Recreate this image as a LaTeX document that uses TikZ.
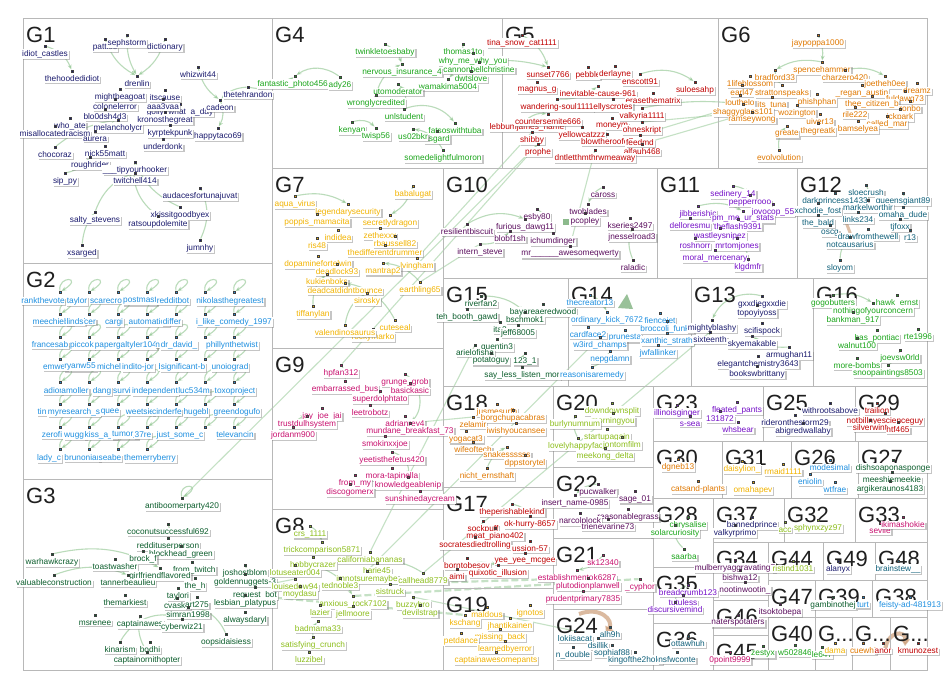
\documentclass[tikz,border=0pt]{standalone}
\usepackage{fontspec}
\setmainfont{Liberation Sans}
\usetikzlibrary{shadows,arrows.meta}
\pgfdeclarelayer{bg}
\pgfsetlayers{bg,main}
\definecolor{c1}{HTML}{1B1B6E}
\definecolor{c2}{HTML}{1E8FE0}
\definecolor{c3}{HTML}{0B5D2C}
\definecolor{c4}{HTML}{1AA51A}
\definecolor{c5}{HTML}{C00000}
\definecolor{c6}{HTML}{E07800}
\definecolor{c7}{HTML}{F2B300}
\definecolor{c8}{HTML}{8DBE1C}
\definecolor{c9}{HTML}{C8106E}
\definecolor{c10}{HTML}{5B0E5E}
\definecolor{c11}{HTML}{7510C8}
\definecolor{c12}{HTML}{10607A}
\definecolor{edc}{HTML}{8CC48C}
\definecolor{tanc}{RGB}{200,150,110}
\tikzset{
 box/.style={draw=black!28, line width=0.9pt},
 glabel/.style={font=\fontsize{22}{22}\selectfont, text=black!88, anchor=base west, inner sep=0pt},
 vtx/.style={rectangle, minimum size=2.6pt, inner sep=0pt, draw=black!75, line width=0.35pt},
 lab/.style={font=\fontsize{8.3}{9}\selectfont, fill=white, inner sep=0.7pt,
   drop shadow={shadow xshift=1.3pt, shadow yshift=-1.3pt, fill=black!50, opacity=0.45}},
 ed/.style={draw=edc, line width=1.1pt, opacity=0.6, -{Stealth[length=5pt,width=4pt]}},
 lng/.style={draw=edc, line width=1.1pt, opacity=0.5},
 dsh/.style={draw=edc, line width=2.2pt, opacity=0.5, dash pattern=on 7pt off 3pt},
 brn/.style={draw=tanc, line width=4pt, opacity=0.65, -{Triangle[length=7pt,width=9pt]}}
}
\newcommand\VL[4]{\node[vtx,fill=\gc] (#1v) at (#2,#3-8) {};\node[lab,text=\gc] (#1) at (#2,#3) {#4};}
\newcommand\LB[4]{\node[lab,text=c2] (#1) at (#2,#3) {#4};}
\newcommand\GB[6]{\draw[box] (#3,#4) rectangle (#5,#6);\node[glabel] (#1) at (#3+3,#4+24) {#2};}
\begin{document}
\begin{tikzpicture}[x=1pt,y=-1pt]
\useasboundingbox (0,0) rectangle (950,688);
% ---------- group boxes ----------
\GB{G1}{G1}{23}{18}{272}{263}
\GB{G4}{G4}{272}{18}{502}{168}
\GB{G5}{G5}{502}{18}{718}{168}
\GB{G6}{G6}{718}{18}{927}{168}
\GB{G2}{G2}{23}{263}{272}{479}
\GB{G3}{G3}{23}{479}{272}{670}
\GB{G7}{G7}{272}{168}{443}{348}
\GB{G9}{G9}{272}{348}{443}{509}
\GB{G8}{G8}{272}{509}{443}{670}
\GB{G10}{G10}{443}{168}{657}{278}
\GB{G11}{G11}{657}{168}{797}{278}
\GB{G12}{G12}{797}{168}{927}{278}
\GB{G15}{G15}{443}{278}{568}{386}
\GB{G14}{G14}{568}{278}{691}{386}
\GB{G13}{G13}{691}{278}{813}{386}
\GB{G16}{G16}{813}{278}{927}{386}
\GB{G18}{G18}{443}{386}{553}{487}
\GB{G17}{G17}{443}{487}{553}{588}
\GB{G19}{G19}{443}{588}{553}{670}
\GB{G20}{G20}{553}{386}{653}{467}
\GB{G22}{G22}{553}{467}{653}{538}
\GB{G21}{G21}{553}{538}{653}{609}
\GB{G24}{G24}{553}{609}{653}{670}
\GB{G23}{G23}{653}{386}{763}{441}
\GB{G25}{G25}{763}{386}{855}{441}
\GB{G29}{G29}{855}{386}{927}{441}
\GB{G30}{G30}{653}{441}{722}{498}
\GB{G31}{G31}{722}{441}{791}{498}
\GB{G26}{G26}{791}{441}{858}{498}
\GB{G27}{G27}{858}{441}{927}{498}
\GB{G28}{G28}{653}{498}{713}{567}
\GB{G35}{G35}{653}{567}{713}{623}
\GB{G36}{G36}{653}{623}{713}{670}
\GB{G37}{G37}{713}{498}{784}{542}
\GB{G32}{G32}{784}{498}{855}{542}
\GB{G33}{G33}{855}{498}{927}{542}
\GB{G34}{G34}{713}{542}{768}{600}
\GB{G46}{G46}{713}{600}{768}{635}
\GB{G45}{G45}{713}{635}{768}{670}
\GB{G44}{G44}{768}{542}{823}{580}
\GB{G49}{G49}{823}{542}{875}{580}
\GB{G48}{G48}{875}{542}{927}{580}
\GB{G47}{G47}{768}{580}{815}{617}
\GB{G39}{G39}{815}{580}{872}{617}
\GB{G38}{G38}{872}{580}{927}{617}
\GB{G40}{G40}{768}{617}{815}{670}
\GB{Ga}{G...}{815}{617}{852}{670}
\GB{Gb}{G...}{852}{617}{890}{670}
\GB{Gc}{G...}{890}{617}{927}{670}
% ---------- G1 ----------
\def\gc{c1}
\VL{a1}{45}{54}{idiot\_castles}
\VL{a2}{105}{47}{patties}
\VL{a3}{165}{47}{dictionary}
\VL{a4}{127}{43}{sephstorm}
\VL{a5}{72}{79}{thehoodedidiot}
\VL{a6}{137}{84}{drenlin}
\VL{a7}{198}{75}{whizwit44}
\VL{a8}{248}{95}{thetehrandon}
\VL{a9}{120}{97}{mightbeagoat}
\VL{a10}{165}{98}{itscause}
\VL{a13}{180}{112}{golly\_what\_a\_day}
\VL{a11}{115}{107}{colonelerror}
\VL{a12}{163}{107}{aaa3vaa}
\VL{a14}{220}{108}{cadeon}
\VL{a15}{105}{117}{blo0dsh4d3}
\VL{a16}{165}{120}{kronosthegreat}
\VL{a17}{70}{126}{who\_ate}
\VL{a18}{118}{128}{melancholycr}
\VL{a19}{55}{134}{misallocatedracism}
\VL{a20}{170}{133}{kyrptekpunk}
\VL{a21}{218}{136}{happytaco69}
\VL{a22}{95}{139}{aurera}
\VL{a23}{163}{147}{underdonk}
\VL{a24}{55}{155}{chocoraz}
\VL{a25}{105}{154}{nick55matt}
\VL{a26}{90}{165}{roughrider}
\VL{a27}{135}{170}{\_\_\_tipyourhooker}
\VL{a28}{65}{181}{sip\_py}
\VL{a29}{135}{181}{twitchell414}
\VL{a30}{200}{196}{audacesfortunajuvat}
\VL{a31}{180}{215}{xkissitgoodbyex}
\VL{a32}{95}{220}{salty\_stevens}
\VL{a33}{158}{224}{ratsoupdolemite}
\VL{a34}{200}{248}{jumnhy}
\VL{a35}{82}{253}{xsarged}
% ---------- G4 ----------
\def\gc{c4}
\VL{d1}{295}{84}{fantastic\_photo4565}
\VL{d18}{340}{85}{ady26}
\VL{d2}{385}{52}{twinkletoesbaby}
\VL{d3}{463}{52}{thomas1to}
\VL{d4}{473}{61}{why\_me\_why\_you}
\VL{d5}{402}{72}{nervous\_insurance\_4}
\VL{d6}{479}{70}{cannonbellchristine}
\VL{d7}{471}{79}{dwtslove}
\VL{d8}{448}{87}{wamakima5004}
\VL{d9}{398}{92}{utomoderator}
\VL{d10}{376}{103}{wronglycredited}
\VL{d11}{404}{117}{unlstudent}
\VL{d12}{352}{130}{kenyan}
\VL{d13}{455}{131}{fatsoswithtuba}
\VL{d14}{376}{136}{twisp56}
\VL{d15}{437}{139}{asgard}
\VL{d16}{413}{137}{us02bkr}
\VL{d17}{443}{158}{somedelightfulmoron}
% ---------- G5 ----------
\def\gc{c5}
\VL{e1}{522}{43}{tina\_snow\_cat1111}
\VL{e2}{548}{75}{sunset7766}
\VL{e3}{588}{75}{pebble}
\VL{e4}{615}{74}{derlayne}
\VL{e5}{640}{82}{enscott91}
\VL{e6}{695}{90}{suloesahp}
\VL{e7}{537}{90}{magnus\_g}
\VL{e8}{598}{94}{inevitable-cause-961}
\VL{e9}{653}{101}{erasethematrix}
\VL{e10}{557}{107}{wandering-soul1111}
\VL{e11}{613}{107}{ellyscrotes}
\VL{e12}{642}{116}{valkyria1111}
\VL{e14}{527}{127}{lebbumjames\_name}
\VL{e13}{548}{122}{countersemite666}
\VL{e15}{612}{126}{moneym}
\VL{e16}{642}{130}{ohneskript}
\VL{e17}{582}{135}{yellowcatzzz}
\VL{e18}{532}{140}{shibby}
\VL{e19}{607}{142}{blowtheroofoff}
\VL{e20}{640}{143}{feedmd}
\VL{e21}{538}{152}{prophe}
\VL{e22}{642}{152}{alfauh468}
\VL{e23}{595}{158}{dntletthmthrwmeaway}
% ---------- G6 ----------
\def\gc{c6}
\VL{f1}{818}{43}{jaypoppa1000}
\VL{f2}{822}{70}{spencehammer}
\VL{f3}{775}{78}{bradford33}
\VL{f4}{845}{78}{charzero420}
\VL{f5}{885}{84}{joetheh0ee}
\VL{f6}{750}{84}{1lifeblossom}
\VL{f7}{742}{93}{earl47}
\VL{f8}{782}{93}{strattonspeaks}
\VL{f9}{862}{93}{\_regan\_austin}
\VL{f10}{917}{91}{dreamz}
\VL{f11}{905}{99}{fuldawg73}
\VL{f12}{740}{103}{louthelo}
\VL{f13}{772}{105}{its\_tuna}
\VL{f14}{817}{102}{phishphan}
\VL{f15}{872}{104}{thee\_citizen\_b}
\VL{f16}{743}{112}{shaggyglass101}
\VL{f17}{797}{113}{wozington}
\VL{f18}{855}{115}{rile222}
\VL{f19}{910}{109}{ronbo}
\VL{f20}{752}{120}{ramseywong}
\VL{f21}{820}{122}{uiver13}
\VL{f22}{900}{117}{ickpark}
\VL{f23}{887}{124}{called\_mar}
\VL{f24}{787}{134}{greate}
\VL{f25}{818}{131}{thegreatk}
\VL{f26}{858}{129}{bamselyea}
\VL{f27}{779}{158}{evolvolution}
% ---------- G7 ----------
\def\gc{c7}
\VL{g1}{295}{204}{aqua\_virus}
\VL{g2}{413}{194}{babalugat}
\VL{g3}{348}{212}{legendarysecurity}
\VL{g4}{317}{222}{poppis\_mamacita}
\VL{g5}{390}{223}{secretlydragon}
\VL{g6}{380}{236}{zethexxx}
\VL{g7}{338}{238}{indidea}
\VL{g8}{395}{244}{rbaussell82}
\VL{g9}{317}{246}{ris48}
\VL{g10}{385}{253}{thedifferentdrummer}
\VL{g11}{318}{264}{dopaminefortelwin}
\VL{g12}{417}{266}{lvingham}
\VL{g13}{337}{272}{deadlock93}
\VL{g14}{383}{271}{mantrap2}
\VL{g15}{327}{282}{kukienboks}
\VL{g16}{420}{290}{earthling65}
\VL{g17}{345}{291}{deadcatdidntbounce}
\VL{g18}{367}{301}{sirosky}
\VL{g19}{313}{314}{tiffanylan}
\VL{g20}{395}{328}{cuteseal}
\VL{g21}{373}{337}{rockymarko}
\VL{g22}{345}{333}{valendinosaurus}
% ---------- G10 ----------
\def\gc{c10}
\VL{j1}{603}{195}{caross}
\VL{j2}{537}{217}{esby80}
\VL{j3}{588}{212}{twoblades}
\VL{j4}{585}{221}{pcopley}
\VL{j5}{525}{227}{furious\_dawg11}
\VL{j6}{630}{226}{kseries2497}
\VL{j7}{467}{232}{resilientbiscuit}
\VL{j8}{510}{239}{blobf1sh}
\VL{j9}{553}{241}{ichumdinger}
\VL{j10}{632}{237}{jnesselroad3}
\VL{j11}{480}{252}{intern\_steve}
\VL{j12}{570}{254}{mr\_\_\_\_\_\_awesomeqwerty}
\VL{j13}{633}{268}{raladic}
% ---------- G11 ----------
\def\gc{c11}
\VL{k1}{733}{194}{sedinery\_14}
\VL{k2}{750}{203}{pepperrooo}
\VL{k3}{698}{214}{jibberishjc}
\VL{k4}{773}{212}{jovocop\_55}
\VL{k5}{743}{219}{pm\_me\_ur\_stats}
\VL{k6}{690}{226}{delloresmu}
\VL{k7}{738}{227}{theflash9391}
\VL{k8}{720}{236}{wastleysnipez}
\VL{k9}{695}{246}{roshnorr}
\VL{k10}{737}{246}{mrtomjones}
\VL{k11}{715}{258}{moral\_mercenary}
\VL{k12}{748}{267}{klgdmfr}
% ---------- G12 ----------
\def\gc{c12}
\VL{l1}{866}{193}{sloecrush}
\VL{l2}{835}{201}{darkprincess1433}
\VL{l3}{903}{201}{queensgiant89}
\VL{l4}{868}{208}{markelworthjr}
\VL{l5}{818}{211}{xchodie\_fost}
\VL{l6}{903}{215}{omaha\_dude}
\VL{l7}{818}{223}{the\_bald}
\VL{l8}{858}{220}{links234}
\VL{l9}{900}{227}{tjfoxx}
\VL{l10}{830}{233}{oscg}
\VL{l11}{868}{237}{drawfromthewell}
\VL{l12}{910}{238}{r13}
\VL{l13}{850}{245}{notcausarius}
\VL{l14}{840}{268}{sloyom}
% ---------- G2 ----------
\foreach \r/\yy in {1/292,2/314,3/337,4/359,5/382,6/404,7/427}{
 \foreach \c/\xx in {1/60,2/89,3/118,4/147,5/176,6/205,7/234}{
  \node[vtx,fill=c2] (b\r\c) at (\xx,\yy) {};}}
\foreach \c/\xx in {1/60,2/89,3/118,4/147}{\node[vtx,fill=c2] (b8\c) at (\xx,449) {};}
\LB{bl1}{43}{301}{rankthevote}\LB{bl2}{77}{301}{taylor}\LB{bl3}{106}{301}{scarecro}\LB{bl4}{140}{301}{postmast}\LB{bl5}{173}{301}{redditbot}\LB{bl6}{230}{301}{nikolasthegreatest}
\LB{bl7}{53}{322}{meechiebe}\LB{bl8}{76}{322}{lindsl}\LB{bl9}{90}{322}{cer}\LB{bl10}{114}{322}{cargi}\LB{bl11}{149}{322}{automatic\_}\LB{bl12}{172}{322}{differ}\LB{bl13}{234}{322}{i\_like\_comedy\_1997}
\LB{bl14}{50}{345}{francesab}\LB{bl15}{82}{345}{piccok}\LB{bl16}{111}{345}{papergal}\LB{bl17}{142}{345}{tyler104}\LB{bl18}{160}{345}{na}\LB{bl19}{179}{345}{dr\_david\_}\LB{bl20}{232}{345}{phillynthetwist}
\LB{bl21}{55}{367}{emwel}\LB{bl22}{80}{367}{ryanw55}\LB{bl23}{109}{367}{michel}\LB{bl24}{138}{367}{indito-jor}\LB{bl25}{163}{367}{bc}\LB{bl26}{183}{367}{significant-b}\LB{bl27}{230}{367}{unoiograd}
\LB{bl28}{53}{391}{adior}\LB{bl29}{75}{391}{amoller}\LB{bl30}{102}{391}{dang}\LB{bl31}{122}{391}{survi}\LB{bl32}{155}{391}{independent}\LB{bl33}{194}{391}{luc534m}\LB{bl34}{235}{391}{toxoproject}
\LB{bl35}{42}{412}{tin}\LB{bl36}{74}{412}{myresearch\_s}\LB{bl37}{110}{412}{quee}\LB{bl38}{140}{412}{weetsie}\LB{bl39}{167}{412}{cinderfe}\LB{bl40}{196}{412}{hugebl}\LB{bl41}{237}{412}{greendogufo}
\LB{bl42}{52}{435}{zerofi}\LB{bl43}{75}{435}{wuggl}\LB{bl44}{101}{435}{kiss\_a\_h}\LB{bl45}{125}{435}{tumor\_}\LB{bl46}{143}{435}{37re}\LB{bl47}{180}{435}{just\_some\_c}\LB{bl48}{235}{435}{televancin}
\LB{bl49}{49}{458}{lady\_c}\LB{bl50}{82}{458}{brunoniar}\LB{bl51}{110}{458}{seabe}\LB{bl52}{150}{458}{themerryberry}
% ---------- G3 ----------
\def\gc{c3}
\VL{m1}{182}{506}{antiboomerparty420}
\VL{m2}{168}{532}{coconutsuccessful692}
\VL{m3}{168}{546}{reddituserperson}
\VL{m4}{181}{554}{blockhead\_green}
\VL{m5}{143}{559}{brock\_f}
\VL{m6}{52}{562}{warhawkcrazy}
\VL{m7}{115}{567}{toastwasher}
\VL{m8}{192}{570}{\_from\_twitch}
\VL{m9}{160}{576}{girlfriendflavored}
\VL{m10}{245}{573}{joshostblom}
\VL{m11}{54}{583}{valuableconstruction}
\VL{m12}{245}{582}{goldennuggets-3}
\VL{m13}{128}{583}{tannerbeaulieu}
\VL{m14}{195}{586}{the\_h}
\VL{m15}{178}{596}{taylori}
\VL{m16}{255}{595}{request\_bot}
\VL{m17}{177}{606}{cvaska}
\VL{m18}{197}{605}{art275}
\VL{m19}{245}{603}{lesbian\_platypus}
\VL{m20}{125}{603}{themarkiest}
\VL{m21}{188}{615}{simran1998}
\VL{m22}{95}{623}{msrenee}
\VL{m23}{140}{624}{captainawes}
\VL{m24}{245}{620}{alwaysdaryl}
\VL{m25}{182}{627}{cyberwiz21}
\VL{m26}{226}{642}{oopsidaisiess}
\VL{m27}{120}{650}{kinarism}
\VL{m28}{150}{650}{bodhi}
\VL{m29}{147}{660}{captainornithopter}
% ---------- G9 ----------
\def\gc{c9}
\VL{q1}{341}{373}{hpfan312}
\VL{q2}{405}{382}{grunge\_grob}
\VL{q3}{345}{389}{embarrassed\_bus}
\VL{q4}{410}{391}{basickasic}
\VL{q5}{380}{399}{superdolphtato}
\VL{q6}{322}{416}{jay\_joe\_jai}
\VL{q7}{370}{413}{leetrobotz}
\VL{q8}{307}{424}{trustdulhsystem}
\VL{q9}{405}{424}{adrianrey4}
\VL{q10}{293}{435}{jordanm900}
\VL{q11}{410}{431}{mundane\_breakfast\_73}
\VL{q12}{385}{444}{smokinxxjoe}
\VL{q13}{392}{460}{yeetisthefetus420}
\VL{q14}{392}{476}{mora-tapinella}
\VL{q15}{355}{483}{from\_my}
\VL{q16}{408}{485}{knowledgeablenip}
\VL{q17}{350}{492}{discogomerx}
\VL{q18}{420}{499}{sunshinedaycream}
% ---------- G8 ----------
\def\gc{c8}
\VL{r1}{310}{534}{crs\_1111}
\VL{r2}{322}{550}{trickcomparison5871}
\VL{r3}{370}{560}{californiabananas}
\VL{r4}{313}{565}{hobbycrazer}
\VL{r5}{377}{571}{harie45}
\VL{r6}{295}{573}{lotuseater004}
\VL{r7}{367}{579}{imnotsuremaybe}
\VL{r8}{423}{581}{callhead8779}
\VL{r9}{295}{587}{louisedow94}
\VL{r10}{340}{586}{tednoble3}
\VL{r11}{390}{592}{sistruck}
\VL{r12}{300}{594}{moydasu}
\VL{r13}{353}{604}{anxious\_rock7102}
\VL{r14}{413}{605}{buzzybro}
\VL{r15}{320}{613}{lazier}
\VL{r16}{353}{614}{jellmoore}
\VL{r17}{420}{613}{devilstrap}
\VL{r18}{318}{629}{badmama33}
\VL{r19}{313}{645}{satisfying\_crunch}
\VL{r20}{309}{660}{luzzibel}
% ---------- G15 ----------
\def\gc{c3}
\VL{o1}{481}{304}{riverfan2}
\VL{o2}{467}{317}{teh\_booth\_gawd}
\VL{o3}{543}{312}{bayareaeredwood}
\VL{o4}{525}{320}{bschmok1}
\VL{o5}{500}{330}{ita2}
\VL{o6}{518}{333}{jeff68005}
\VL{o7}{497}{347}{quentin3}
\VL{o8}{475}{353}{arielofisha}
\VL{o9}{491}{361}{potatoguy}
\VL{o10}{525}{361}{123\_1}
\VL{o11}{522}{375}{say\_less\_listen\_mor}
% ---------- G14 ----------
\def\gc{c2}
\VL{s1}{590}{303}{thecreator13}
\VL{s2}{607}{320}{ordinary\_kick\_7672}
\VL{s3}{588}{335}{cardface2}
\VL{s4}{625}{338}{prunesta}
\VL{s5}{600}{345}{w3ird\_champs}
\VL{s6}{610}{359}{nepgdamn}
\VL{s7}{592}{375}{reasonisaremedy}
\VL{s8}{660}{321}{fiencejet}
\VL{s9}{667}{329}{broccoli\_funky}
\VL{s10}{667}{341}{xanthic\_strath}
\VL{s11}{658}{353}{jwfallinker}
% ---------- G13 ----------
\def\gc{c1}
\VL{t1}{762}{304}{gxxdiegxxdie}
\VL{t2}{757}{313}{topoyiyoss}
\VL{t3}{712}{328}{mightyblashy}
\VL{t4}{762}{331}{scifispock}
\VL{t5}{710}{340}{sixteenth}
\VL{t6}{752}{344}{skyemakable}
\VL{t7}{789}{355}{armughan11}
\VL{t8}{758}{364}{elegantchemistry3643}
\VL{t9}{757}{374}{bookswbrittany}
% ---------- G16 ----------
\def\gc{c4}
\VL{u1}{833}{303}{gogobutters}
\VL{u2}{897}{303}{hawk\_ernst}
\VL{u3}{873}{311}{nothingofyourconcern}
\VL{u4}{853}{320}{bankman\_917}
\VL{u5}{918}{337}{rte1996}
\VL{u6}{877}{338}{has\_pontiac}
\VL{u7}{857}{346}{walnut100}
\VL{u8}{900}{358}{joevsw0rld}
\VL{u9}{857}{366}{more-bombs}
\VL{u10}{888}{373}{snoopaintings8503}
% ---------- G18 ----------
\def\gc{c6}
\VL{w1}{497}{412}{jusmesurfh}
\VL{w2}{513}{418}{borgchupacabras}
\VL{w3}{473}{425}{zelamir}
\VL{w4}{516}{431}{iwishyoucansee}
\VL{w5}{466}{439}{yogacat3}
\VL{w6}{473}{450}{wifeoftech}
\VL{w7}{507}{455}{snakessssss}
\VL{w8}{525}{463}{dppstorytel}
\VL{w9}{487}{476}{nicht\_ernsthaft}
% ---------- G20 ----------
\def\gc{c8}
\VL{x1}{612}{411}{downdownsplit}
\VL{x2}{613}{421}{morningyou}
\VL{x3}{575}{424}{burlynumnum}
\VL{x4}{607}{437}{startupagain}
\VL{x5}{578}{446}{lovelyhappyface}
\VL{x6}{622}{445}{jontomfilm}
\VL{x7}{605}{456}{meekong\_delta}
% ---------- G23 / G25 / G29 ----------
\def\gc{c11}
\VL{y1}{677}{413}{illinoisginger}
\VL{y2}{737}{410}{fleated\_pants}
\VL{y3}{720}{419}{131872}
\VL{y4}{690}{424}{s-sea}
\VL{y5}{738}{430}{whsbear}
\def\gc{c1}
\VL{z1}{830}{411}{withrootsabove}
\VL{z2}{795}{423}{rideronthestorm29}
\VL{z3}{803}{431}{abigredwallaby}
\def\gc{c5}
\VL{aa1}{877}{411}{trailion}
\VL{aa2}{885}{421}{notbillnyescienceguy}
\VL{aa3}{870}{428}{silverwint}
\VL{aa4}{898}{430}{htf465}
% ---------- G17 ----------
\def\gc{c5}
\VL{bb1}{512}{512}{theperishablekind}
\VL{bb2}{483}{529}{sockpuff}
\VL{bb3}{530}{524}{ok-hurry-8657}
\VL{bb4}{495}{536}{meat\_piano402}
\VL{bb5}{475}{545}{socratesdiedtrolling}
\VL{bb6}{530}{549}{ussion-57}
\VL{bb7}{525}{561}{yee\_yee\_mcgee}
\VL{bb8}{467}{566}{borntobesov}
\VL{bb9}{498}{573}{quixotic\_illusion}
\VL{bb10}{457}{577}{aimi}
% ---------- G22 ----------
\def\gc{c10}
\VL{cc1}{598}{492}{pucwalker}
\VL{cc2}{635}{499}{sage\_01}
\VL{cc3}{575}{503}{insert\_name-0985}
\VL{cc4}{628}{517}{reasonablegrass}
\VL{cc5}{580}{521}{narcolplock}
\VL{cc6}{608}{527}{trienevarine73}
% ---------- G21 ----------
\def\gc{c9}
\VL{dd1}{603}{563}{sk12340}
\VL{dd2}{577}{578}{establishmentok6287}
\VL{dd3}{640}{587}{\_cyphor}
\VL{dd4}{588}{586}{plutodionplanwell}
\VL{dd5}{583}{599}{prudentprimary7835}
% ---------- G24 ----------
\def\gc{c12}
\VL{ee1}{575}{639}{lokiisacat}
\VL{ee2}{610}{635}{alh9h}
\VL{ee3}{598}{646}{dsillik}
\VL{ee4}{573}{655}{n\_double}
\VL{ee5}{612}{653}{sophiaf88}
\VL{ee6}{635}{660}{kingofthe2hole}
% ---------- G19 ----------
\def\gc{c7}
\VL{ff1}{487}{615}{maldous}
\VL{ff2}{530}{613}{ignotos}
\VL{ff3}{465}{623}{kschang}
\VL{ff4}{510}{626}{jhantikainen}
\VL{ff5}{500}{637}{missing\_back}
\VL{ff6}{461}{641}{petdance}
\VL{ff7}{505}{649}{learnedbyerror}
\VL{ff8}{496}{660}{captainawesomepants}
% ---------- small groups ----------
\def\gc{c6}
\VL{gg1}{678}{467}{dgneb13}
\VL{gg2}{698}{489}{catsand-plants}
\def\gc{c7}
\VL{hh1}{742}{469}{daisylion\_}
\VL{hh2}{783}{472}{rmaid1111}
\VL{hh3}{753}{490}{omahapev}
\def\gc{c2}
\VL{ii1}{830}{468}{modesimal}
\VL{ii2}{810}{482}{eniolin}
\VL{ii3}{835}{490}{wtfrae}
\def\gc{c3}
\VL{jj1}{893}{468}{dishsoaponasponge}
\VL{jj2}{892}{480}{meeshiemeekie}
\VL{jj3}{890}{489}{argikeraunos4183}
\def\gc{c4}
\VL{kk1}{688}{525}{chrysalise}
\VL{kk2}{675}{533}{solarcuriosity}
\VL{kk3}{684}{557}{saarba}
\def\gc{c1}
\VL{ll1}{752}{525}{bannedprince}
\VL{ll2}{735}{533}{valkyrprimo}
\def\gc{c8}
\VL{mm1}{785}{530}{acc}
\VL{mm2}{818}{528}{sphynxzyz97}
\def\gc{c9}
\VL{nn1}{880}{531}{sevile}
\VL{nn2}{903}{525}{ikimashokie}
\def\gc{c10}
\VL{oo1}{735}{568}{mulberryaggravating7}
\VL{oo2}{740}{578}{bishwa12}
\VL{oo3}{745}{590}{nootinwootin\_}
\def\gc{c8}
\VL{pp1}{793}{569}{ristind1031}
\def\gc{c1}
\VL{qq1}{838}{569}{alanyx}
\def\gc{c12}
\VL{rr1}{898}{569}{brainstew\_\_}
\def\gc{c11}
\VL{ss1}{688}{593}{breadcrumb123}
\VL{ss2}{683}{603}{tutuless}
\VL{ss3}{675}{610}{discursivemind}
\def\gc{c12}
\VL{tt1}{688}{644}{ottawhuh}
\VL{tt2}{677}{660}{nsfwconte}
\def\gc{c10}
\VL{uu2}{738}{623}{naterspotaters}
\VL{uu1}{780}{612}{itsoktobepa}
\def\gc{c3}
\VL{vv1}{833}{605}{gambinothej}
\def\gc{c2}
\VL{ww1}{863}{605}{turt}
\VL{ww2}{910}{605}{feisty-ad-481913}
\def\gc{c9}
\VL{xx1}{730}{660}{0point9999}
\def\gc{c4}
\VL{yy1}{763}{654}{zestyx}
\VL{yy2}{795}{653}{w502846}
\VL{yy3}{822}{655}{le647}
\def\gc{c7}
\VL{zz1}{835}{651}{dama}
\def\gc{c6}
\VL{zz2}{863}{651}{cuewhi}
\def\gc{c5}
\VL{zz3}{883}{651}{anor}
\VL{zz4}{918}{651}{kmunozest}
% ---------- edges (background) ----------
\begin{pgfonlayer}{bg}
\fill[white] (0,0) rectangle (950,688);
% long inter-group lines
\draw[lng] (m1v) -- (e21v);
\draw[lng] (q1v) -- (j7v);
\draw[lng] (g12v) -- (e18v);
\draw[lng] (j7v) -- (e21v);
\draw[lng] (j12v) -- (e23v);
\draw[lng] (r8v) -- (t5v);
\draw[lng] (r7v) -- (s5v);
\draw[lng] (r3v) -- (o8v);
\draw[lng] (q11v) -- (w3v);
\draw[lng] (m16v) -- (r9v);
\draw[lng] (r14v) -- (ee1v);
\draw[lng] (g16v) -- (j11v);
\draw[lng] (e16v) -- (f20v);
\draw[lng] (e22v) -- (f20v);
\draw[lng] (e20v) -- (f16v);
\draw[dsh] (r11v) -- (dd4v);
\draw[dsh] (r13v) -- (dd3v);
\draw[dsh] (m19v) -- (ff3v);
\draw[ed] (e12v) to[bend left=8] (f16v);
\draw[ed] (d6v) to[bend left=10] (e2v);
\draw[ed] (a8v) to[bend right=25] (d1v);
\draw[ed] (d18v) to[bend right=35] (d1v);
% G1
\draw[ed] (a4v) to[bend right=15] (a6v);
\draw[ed] (a2v) to[bend right=20] (a6v);
\draw[ed] (a3v) to[bend left=20] (a6v);
\draw[ed] (a1v) to[bend left=25] (a5v);
\draw[ed] (a7v) to[bend right=20] (a14v);
\draw[ed] (a8v) to[bend right=20] (a14v);
\draw[ed] (a14v) to[bend left=25] (a21v);
\draw[ed] (a31v) to[bend left=20] (a27v);
\draw[ed] (a32v) to[bend left=25] (a29v);
\draw[ed] (a34v) to[bend right=25] (a30v);
\draw[ed] (a35v) to[bend left=15] (a32v);
\draw[ed] (a24v) to[bend left=15] (a18v);
\draw[ed] (a28v) to[bend right=20] (a26v);
\draw[ed] (a33v) to[bend left=30] (a27v);
% G4
\draw[ed] (d10v) to[bend left=25] (d5v);
\draw[ed] (d11v) to[bend left=35] (d13v);
\draw[ed] (d12v) to[bend left=30] (d14v);
\draw[ed] (d17v) to[bend right=25] (d16v);
\draw[ed] (d2v) to[bend left=20] (d5v);
\draw[ed] (d3v) to[bend left=20] (d8v);
\draw[ed] (d11v) to[bend right=30] (d9v);
% G5 G6
\draw[ed] (e1v) to[bend left=20] (e2v);
\draw[ed] (e5v) to[bend left=25] (e6v);
\draw[ed] (e10v) to[bend right=20] (e8v);
\draw[ed] (e14v) to[bend left=20] (e13v);
\draw[ed] (f1v) to[bend left=15] (f2v);
\draw[ed] (f2v) to[bend right=20] (f3v);
\draw[ed] (f27v) to[bend left=25] (f24v);
\draw[ed] (f3v) to[bend right=20] (f8v);
\draw[ed] (f4v) to[bend left=20] (f5v);
\draw[ed] (f9v) to[bend left=20] (f15v);
% G7
\draw[ed] (g2v) to[bend left=20] (g5v);
\draw[ed] (g1v) to[bend left=20] (g3v);
\draw[ed] (g16v) to[bend right=20] (g14v);
\draw[ed] (g19v) to[bend left=25] (g15v);
\draw[ed] (g20v) to[bend right=25] (g17v);
\draw[ed] (g22v) to[bend left=25] (g18v);
% G10 G11 G12
\draw[ed] (j7v) to[bend left=25] (j5v);
\draw[ed] (j11v) to[bend right=25] (j8v);
\draw[ed] (j13v) to[bend left=20] (j10v);
\draw[ed] (j1v) to[bend right=20] (j3v);
\draw[ed] (j2v) to[bend left=20] (j9v);
\draw[ed] (k1v) to[bend left=20] (k2v);
\draw[ed] (k12v) to[bend right=20] (k10v);
\draw[ed] (k3v) to[bend left=20] (k5v);
\draw[ed] (l14v) to[bend left=20] (l13v);
\draw[ed] (l1v) to[bend left=20] (l4v);
\draw[ed] (l3v) to[bend left=20] (l6v);
% G2 self loops
\foreach \r in {1,...,7}{\foreach \c in {1,...,7}{
 \draw[ed] (b\r\c) .. controls +(-2,-17) and +(24,-15) .. (b\r\c);}}
\foreach \c in {1,...,4}{\draw[ed] (b8\c) .. controls +(-2,-17) and +(24,-15) .. (b8\c);}
% G3
\draw[ed] (m1v) .. controls +(-4,-16) and +(22,-14) .. (m1v);
\draw[ed] (m6v) to[bend left=20] (m9v);
\draw[ed] (m11v) to[bend left=20] (m13v);
\draw[ed] (m26v) to[bend right=30] (m21v);
\draw[ed] (m29v) to[bend left=20] (m23v);
\draw[ed] (m2v) to[bend left=20] (m3v);
\draw[ed] (m10v) to[bend left=25] (m12v);
\draw[ed] (m27v) to[bend left=40] (m25v);
% G9 G8
\draw[ed] (q1v) to[bend left=20] (q3v);
\draw[ed] (q2v) to[bend left=50] (q11v);
\draw[ed] (q18v) to[bend right=20] (q16v);
\draw[ed] (q10v) to[bend left=25] (q8v);
\draw[ed] (q13v) to[bend left=40] (q16v);
\draw[ed] (r1v) to[bend left=20] (r2v);
\draw[ed] (r20v) to[bend left=20] (r19v);
\draw[ed] (r19v) to[bend left=20] (r18v);
\draw[ed] (r8v) to[bend right=20] (r5v);
\draw[ed] (r17v) to[bend left=20] (r14v);
\draw[ed] (r6v) to[bend left=30] (r13v);
% middle groups
\draw[ed] (o1v) to[bend left=20] (o4v);
\draw[ed] (o11v) to[bend left=20] (o10v);
\draw[ed] (s1v) to[bend left=20] (s2v);
\draw[ed] (s7v) to[bend right=20] (s6v);
\draw[ed] (t7v) to[bend left=20] (t6v);
\draw[ed] (t1v) to[bend right=40] (t3v);
\draw[ed] (u1v) to[bend left=20] (u3v);
\draw[ed] (u10v) to[bend right=20] (u8v);
\draw[ed] (w9v) to[bend left=20] (w7v);
\draw[ed] (x5v) to[bend left=20] (x3v);
\draw[ed] (bb1v) to[bend left=20] (bb3v);
\draw[ed] (bb10v) to[bend left=20] (bb9v);
\draw[ed] (dd1v) to[bend left=20] (dd2v);
\draw[ed] (cc1v) to[bend right=20] (cc3v);
\draw[ed] (kk3v) to[bend left=25] (kk2v);
\draw[ed] (ss3v) to[bend left=30] (ss1v);
% tan arcs and clustered arrowheads
\draw[brn] (579,614) .. controls (600,606) and (614,620) .. (606,634);
\draw[brn] (885,652) .. controls (886,630) and (906,630) .. (905,646);
\draw[draw=tanc, line width=3pt, opacity=0.6] (846,222) -- (852,238);
\fill[green!40!black, opacity=0.4] (618,308) -- (627,294) -- (633,309) -- cycle;
\fill[green!40!black, opacity=0.45] (563,219) rectangle (569,225);
\fill[green!40!black, opacity=0.4] (702,330) -- (711,324) -- (710,335) -- cycle;
\end{pgfonlayer}
\end{tikzpicture}
\end{document}
